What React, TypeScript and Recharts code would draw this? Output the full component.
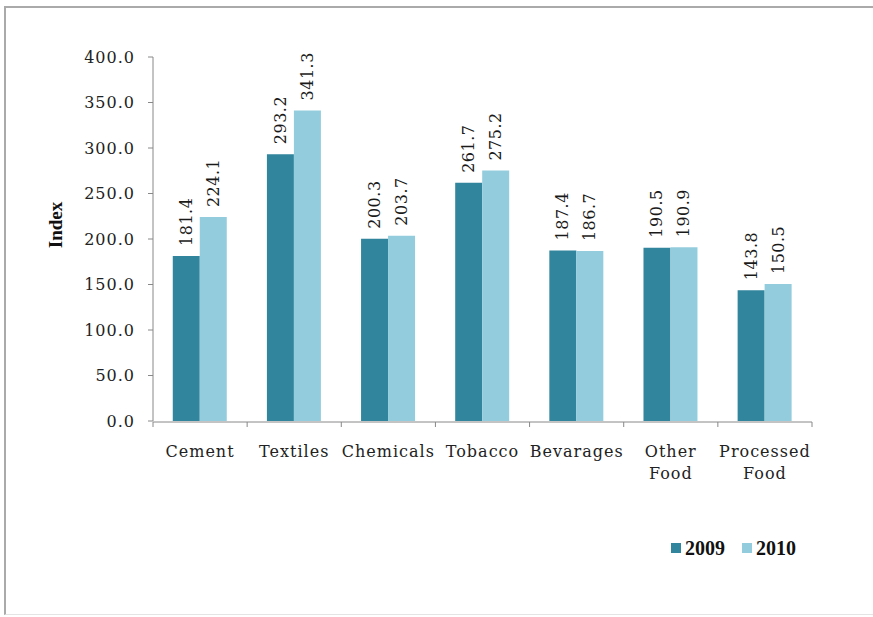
import React from 'react';
import { BarChart, Bar, XAxis, YAxis, LabelList } from 'recharts';

const categories = ['Cement', 'Textiles', 'Chemicals', 'Tobacco', 'Bevarages', 'Other Food', 'Processed Food'];
const values2009 = [181.4, 293.2, 200.3, 261.7, 187.4, 190.5, 143.8];
const values2010 = [224.1, 341.3, 203.7, 275.2, 186.7, 190.9, 150.5];
const yTicks = [0, 50, 100, 150, 200, 250, 300, 350, 400];
const boundaryTicks = [0, 1, 2, 3, 4, 5, 6, 7];
const seriesNames = ['2009', '2010'];
const COLORS = ['#31859C', '#93CDDD'];

const data = categories.map((name, i) => ({ name, y2009: values2009[i], y2010: values2010[i], idx: i + 0.5 }));

const FONT = '"DejaVu Serif", serif';

const CatTick = (props: any) => {
  const { x, y, payload } = props;
  const lines = String(payload.value).split(' ');
  return (
    <g>
      {lines.map((l: string, i: number) => (
        <text key={i} x={x} y={y + 30 + i * 22} textAnchor="middle" fontFamily={FONT} fontSize={16} letterSpacing={1} fill="#222">
          {l}
        </text>
      ))}
    </g>
  );
};

const ValueLabel = (props: any) => {
  const { x, y, width, value } = props;
  const cx = x + width / 2;
  const cy = y - 10;
  return (
    <text x={cx} y={cy} transform={`rotate(-90 ${cx} ${cy})`} textAnchor="start" dominantBaseline="central" fontFamily={FONT} fontSize={16} letterSpacing={0.5} fill="#1a1a1a">
      {Number(value).toFixed(1)}
    </text>
  );
};

const IndexLabel = (props: any) => {
  const vb = props.viewBox || {};
  const cx = vb.x - 38;
  const cy = vb.y + vb.height / 2 - 14;
  return (
    <text x={cx} y={cy} transform={`rotate(-90 ${cx} ${cy})`} textAnchor="middle" dominantBaseline="central" fontFamily='"Liberation Serif", serif' fontWeight="bold" fontSize={19} fill="#111">
      Index
    </text>
  );
};

export default function App() {
  return (
    <div style={{ position: 'absolute', left: 0, top: 0, width: 873, height: 617, background: '#fff', overflow: 'hidden' }}>
      <div style={{ position: 'absolute', left: 4, top: 6, width: 900, height: 606, borderLeft: '2px solid #aaa', borderTop: '2px solid #aaa', borderBottom: '1px solid #e4e4e4' }} />
      <div style={{ position: 'absolute', left: 0, top: 0 }}>
        <BarChart width={873} height={617} data={data} margin={{ top: 57, right: 61, bottom: 194, left: 93 }} barCategoryGap="21%" barGap={0}>
          <XAxis xAxisId="grid" type="number" dataKey="idx" domain={[0, 7]} ticks={boundaryTicks} height={1} tickFormatter={() => ''} stroke="#888" tickSize={5} interval={0} />
          <XAxis xAxisId="cat" dataKey="name" height={1} axisLine={false} tickLine={false} tickMargin={0} tick={<CatTick />} interval={0} />
          <YAxis width={60} domain={[0, 400]} ticks={yTicks} tickFormatter={(v: number) => v.toFixed(1)} stroke="#888" tickSize={5} tickMargin={13} tick={{ fontFamily: FONT, fontSize: 16, letterSpacing: 1, fill: '#222' }} label={<IndexLabel />} interval={0} />
          <Bar xAxisId="cat" dataKey="y2009" name={seriesNames[0]} fill={COLORS[0]} isAnimationActive={false}>
            <LabelList dataKey="y2009" content={<ValueLabel />} />
          </Bar>
          <Bar xAxisId="cat" dataKey="y2010" name={seriesNames[1]} fill={COLORS[1]} isAnimationActive={false}>
            <LabelList dataKey="y2010" content={<ValueLabel />} />
          </Bar>
        </BarChart>
      </div>
      {seriesNames.map((s, i) => (
        <div key={s} style={{ position: 'absolute', left: 671 + i * 71, top: 538, display: 'flex', alignItems: 'center', fontFamily: '"Liberation Serif", serif', fontWeight: 'bold', fontSize: 20, color: '#111', lineHeight: '20px' }}>
          <span style={{ display: 'inline-block', width: 10, height: 10, background: COLORS[i], marginRight: 4 }} />
          <span>{s}</span>
        </div>
      ))}
    </div>
  );
}
